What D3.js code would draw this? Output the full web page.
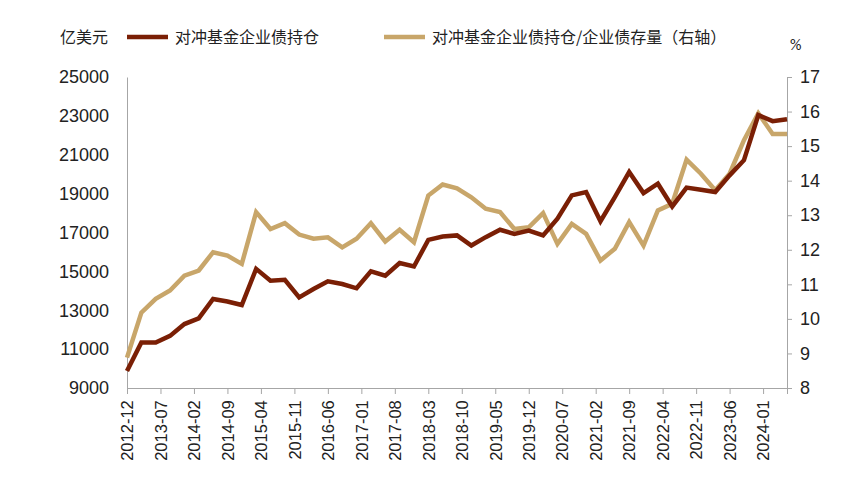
<!DOCTYPE html>
<html><head><meta charset="utf-8">
<script src="https://cdn.jsdelivr.net/npm/d3@7"></script>
<style>body{margin:0;background:#fff}svg{font-family:Calibri,"Liberation Sans","Noto Sans CJK SC",sans-serif}</style>
</head><body><svg id="c" width="861" height="491"></svg>
<script>
const holdings=[9880,11340,11340,11680,12290,12580,13580,13450,13270,15130,14520,14570,13660,14090,14490,14350,14130,15000,14780,15430,15250,16620,16790,16850,16330,16760,17140,16930,17100,16850,17710,18910,19080,17580,18820,20110,19030,19510,18340,19310,19200,19080,19940,20720,23040,22730,22830];
const ratio=[8.88,10.18,10.58,10.82,11.25,11.4,11.93,11.83,11.59,13.09,12.6,12.77,12.44,12.32,12.36,12.07,12.32,12.77,12.24,12.58,12.22,13.57,13.89,13.78,13.52,13.19,13.09,12.6,12.65,13.06,12.17,12.75,12.46,11.69,12.03,12.8,12.12,13.14,13.33,14.61,14.2,13.72,14.2,15.17,15.95,15.35,15.35];
const tickLabels=["2012-12","2013-07","2014-02","2014-09","2015-04","2015-11","2016-06","2017-01","2017-08","2018-03","2018-10","2019-05","2019-12","2020-07","2021-02","2021-09","2022-04","2022-11","2023-06","2024-01"];
const leftTicks=[9000,11000,13000,15000,17000,19000,21000,23000,25000];
const rightTicks=[8,9,10,11,12,13,14,15,16,17];
const names=["对冲基金企业债持仓","对冲基金企业债持仓/企业债存量（右轴）"];
const svg=d3.select("#c");
const L=127,R=787,T=77,B=388;
const x=d3.scaleLinear().domain([0,138]).range([L,R]); // months since 2012-12
const yL=d3.scaleLinear().domain([9000,25000]).range([B,T]);
const yR=d3.scaleLinear().domain([8,17]).range([B,T]);
const grey="#a6a6a6";
const ax=svg.append("g").attr("transform",`translate(${L},0)`).call(d3.axisLeft(yL).tickValues(leftTicks).tickSize(0).tickPadding(18).tickFormat(d3.format("d")));
ax.select(".domain").attr("stroke",grey);
ax.selectAll("text").attr("font-size",18).attr("fill","#222");
const ar=svg.append("g").attr("transform",`translate(${R},0)`).call(d3.axisRight(yR).tickValues(rightTicks).tickSize(5).tickPadding(8));
ar.select(".domain").attr("stroke",grey);ar.selectAll("line").attr("stroke",grey);
ar.selectAll("text").attr("font-size",18).attr("fill","#222");
const ab=svg.append("g").attr("transform",`translate(0,${B})`).call(d3.axisBottom(x).tickValues(tickLabels.map((d,i)=>i*7)).tickSize(6).tickFormat((d,i)=>tickLabels[i]));
ab.select(".domain").attr("stroke",grey);ab.selectAll("line").attr("stroke",grey);
ab.selectAll("text").attr("font-size",16.5).attr("fill","#222").attr("transform","rotate(-90)").attr("text-anchor","end").attr("dx","-0.5em").attr("dy","0.35em").attr("y",0).attr("x",-4);
const line=(y)=>d3.line().x((d,i)=>x(i*3)).y(d=>y(d));
svg.append("path").datum(ratio).attr("d",line(yR)).attr("fill","none").attr("stroke","#c8a66a").attr("stroke-width",4.5);
svg.append("path").datum(holdings).attr("d",line(yL)).attr("fill","none").attr("stroke","#7a1f05").attr("stroke-width",4.5);
const lg=svg.append("g").attr("font-size",16).attr("fill","#222").attr("font-family","'Noto Sans CJK SC',sans-serif");
lg.append("text").attr("x",60).attr("y",43).text("亿美元");
lg.append("line").attr("x1",127).attr("x2",168).attr("y1",37).attr("y2",37).attr("stroke","#7a1f05").attr("stroke-width",4.5);
lg.append("text").attr("x",175).attr("y",43).text(names[0]);
lg.append("line").attr("x1",384).attr("x2",425).attr("y1",37).attr("y2",37).attr("stroke","#c8a66a").attr("stroke-width",4.5);
lg.append("text").attr("x",432).attr("y",43).text(names[1]);
svg.append("text").attr("x",790).attr("y",50).attr("font-size",16).attr("fill","#222").text("%");
</script></body></html>
